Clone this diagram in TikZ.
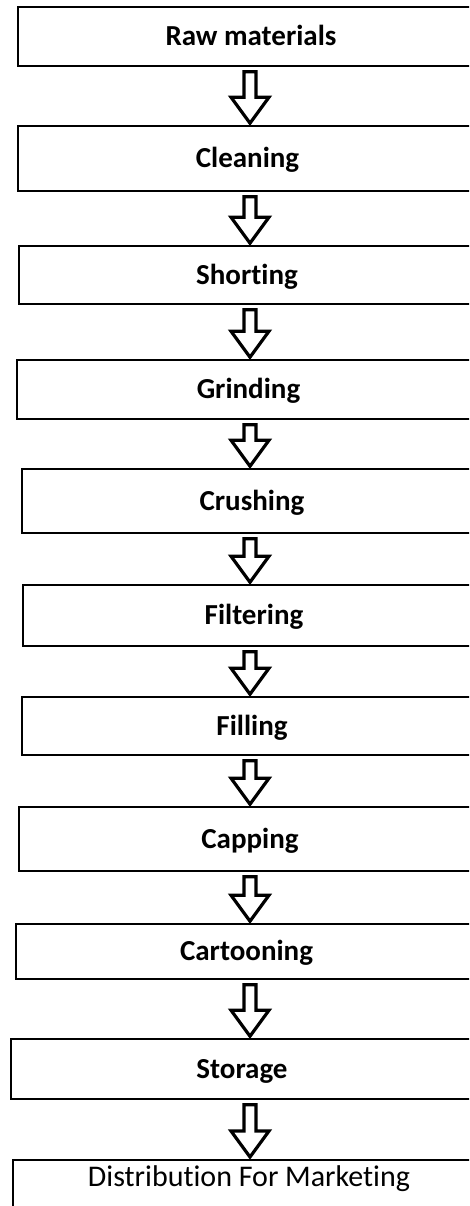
\documentclass[tikz,border=0pt]{standalone}
\usepackage{fontspec}
\setmainfont{Carlito}[Ligatures=NoCommon]
\usepackage{tikz}
\usetikzlibrary{calc}

\begin{document}
\begin{tikzpicture}[x=1pt,y=-1pt,
	stepbox/.style={draw, line width=1.6pt, inner sep=0pt, font=\fontsize{29}{33}\selectfont\bfseries, text height=18pt, text depth=0pt},
	blockarrow/.style={draw, fill=white, line width=3.2pt, line join=miter}]
	
	\useasboundingbox (0,0) rectangle (469,1206);
	\clip (0,0) rectangle (469,1206);
	\coordinate (ax) at (250,0);
	
	\node[stepbox, minimum width=466pt, minimum height=59pt] (raw) at (251,36.5) {Raw materials};
	\node[stepbox, minimum width=459pt, minimum height=65pt] (clean) at (247.5,158.5) {Cleaning};
	\node[stepbox, minimum width=456pt, minimum height=58pt] (short) at (247,275) {Shorting};
	\node[stepbox, minimum width=463pt, minimum height=59pt] (grind) at (248.5,389.5) {Grinding};
	\node[stepbox, minimum width=460pt, minimum height=64pt] (crush) at (252,501) {Crushing};
	\node[stepbox, minimum width=462pt, minimum height=61pt] (filter) at (254,615.5) {Filtering};
	\node[stepbox, minimum width=460pt, minimum height=58pt] (fill) at (252,726) {Filling};
	\node[stepbox, minimum width=462pt, minimum height=64pt] (cap) at (250,839) {Capping};
	\node[stepbox, minimum width=461pt, minimum height=55pt] (carton) at (246.5,951.5) {Cartooning};
	\node[stepbox, minimum width=462pt, minimum height=60pt] (store) at (242,1069) {Storage};
	\node[stepbox, font=\fontsize{30}{34}\selectfont, anchor=north, minimum width=472pt, text height=27pt, text depth=40pt] (dist) at (249,1159) {Distribution For Marketing};
	
	% hollow block arrows between the steps
	\foreach \a/\b in {raw/clean, clean/short, short/grind, grind/crush, crush/filter, filter/fill, fill/cap, cap/carton, carton/store, store/dist}
		\draw[blockarrow] ($(\a.south -| ax)+(-6,5)$) -- ($(\b.north -| ax)+(-6,-28)$) -- ++(-13,0) -- ($(\b.north -| ax)+(0,-2)$) -- ($(\b.north -| ax)+(19,-28)$) -- ++(-13,0) -- ($(\a.south -| ax)+(6,5)$) -- cycle;
	
\end{tikzpicture}
\end{document}
